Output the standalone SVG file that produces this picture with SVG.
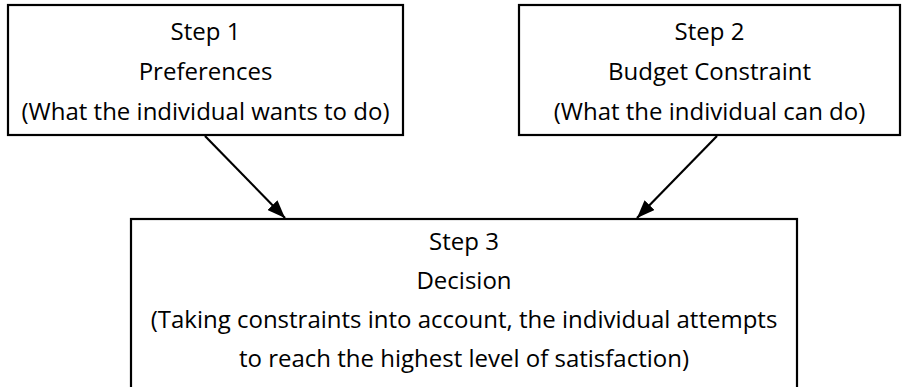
<svg xmlns="http://www.w3.org/2000/svg" width="902" height="387" viewBox="0 0 902 387">
  <style>
    .box { fill: #ffffff; stroke: #000000; stroke-width: 2.2; }
    .lbl { font-family: "Open Sans", "Liberation Sans", sans-serif; font-size: 24px; fill: #000000; text-anchor: middle; }
    .conn { stroke: #000000; stroke-width: 2.2; fill: none; marker-end: url(#arrow); }
  </style>
  <defs>
    <marker id="arrow" markerUnits="userSpaceOnUse" markerWidth="18" markerHeight="14" refX="18" refY="7" orient="auto">
      <path d="M0,0 L18,7 L0,14 z" fill="#000000"/>
    </marker>
  </defs>
  <rect width="902" height="387" fill="#ffffff"/>
  <g id="node-step1">
    <rect class="box" x="8" y="5" width="395" height="130"/>
    <text class="lbl" x="205.5" y="40">Step 1</text>
    <text class="lbl" x="205.5" y="80">Preferences</text>
    <text class="lbl" x="205.5" y="120">(What the individual wants to do)</text>
  </g>
  <g id="node-step2">
    <rect class="box" x="519" y="5" width="381" height="130"/>
    <text class="lbl" x="709.5" y="40">Step 2</text>
    <text class="lbl" x="709.5" y="80">Budget Constraint</text>
    <text class="lbl" x="709.5" y="120">(What the individual can do)</text>
  </g>
  <g id="node-step3">
    <rect class="box" x="131" y="219" width="666" height="172"/>
    <text class="lbl" x="464" y="250">Step 3</text>
    <text class="lbl" x="464" y="289">Decision</text>
    <text class="lbl" x="464" y="328">(Taking constraints into account, the individual attempts</text>
    <text class="lbl" x="464" y="367">to reach the highest level of satisfaction)</text>
  </g>
  <g id="connectors">
    <line class="conn" x1="205" y1="136" x2="285" y2="218"/>
    <line class="conn" x1="717" y1="136" x2="637" y2="218"/>
  </g>
</svg>
